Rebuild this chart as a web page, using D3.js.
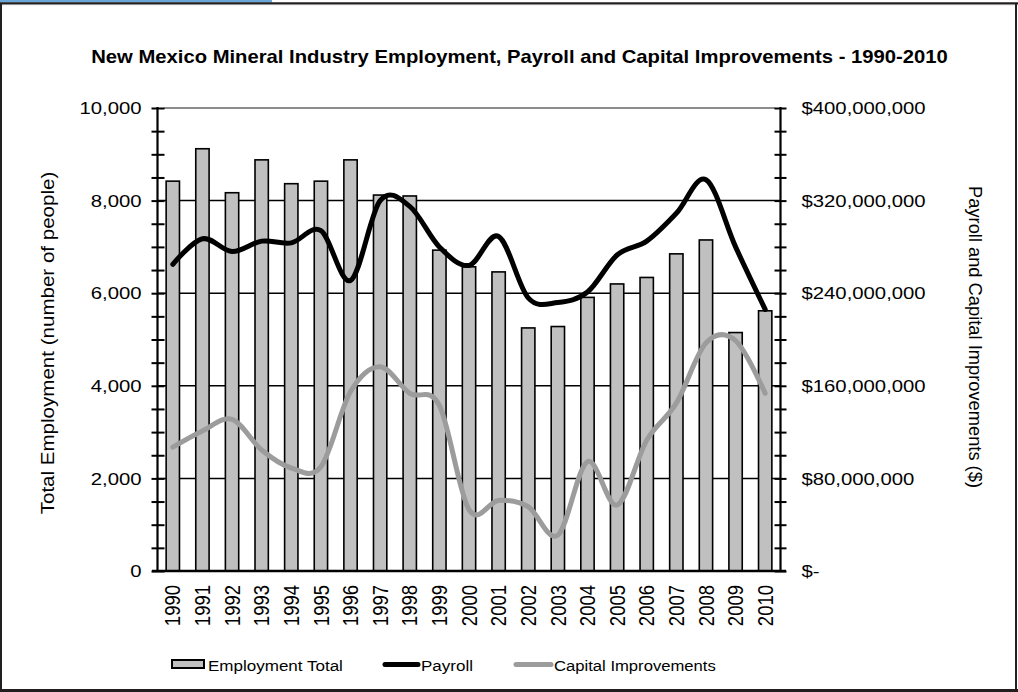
<!DOCTYPE html>
<html><head><meta charset="utf-8">
<script src="https://cdn.jsdelivr.net/npm/d3@7/dist/d3.min.js"></script>
<style>
body{margin:0;background:#fff}
svg{display:block}
text{font-family:"Liberation Sans",Arial,sans-serif;fill:#000}
</style>
</head><body>
<svg id="c" width="1018" height="692"></svg>
<script>
// ---------- data ----------
const years = ["1990","1991","1992","1993","1994","1995","1996","1997","1998","1999","2000","2001","2002","2003","2004","2005","2006","2007","2008","2009","2010"];
const employment = [8420, 9120, 8170, 8880, 8365, 8420, 8880, 8120, 8100, 6930, 6570, 6460, 5250, 5280, 5910, 6200, 6340, 6850, 7150, 5150, 5620];
const payroll = [265e6, 287e6, 276e6, 285e6, 283.5e6, 294e6, 251e6, 320e6, 315e6, 280e6, 264e6, 289e6, 236e6, 232e6, 241e6, 273e6, 285e6, 309e6, 338e6, 280e6, 226e6];
const capital = [107e6, 121e6, 131e6, 104.5e6, 89e6, 90e6, 155e6, 176.5e6, 153.5e6, 143e6, 53e6, 61e6, 55.5e6, 31e6, 94.5e6, 57e6, 113e6, 145e6, 197e6, 199e6, 153.5e6];
const leftTicks = [0, 2000, 4000, 6000, 8000, 10000];
const rightTicks = [0, 80e6, 160e6, 240e6, 320e6, 400e6];
const title = "New Mexico Mineral Industry Employment, Payroll and Capital Improvements - 1990-2010";
const leftTitle = "Total Employment (number of people)";
const rightTitle = "Payroll and Capital Improvements ($)";
const legendItems = ["Employment Total", "Payroll", "Capital Improvements"];

// ---------- layout ----------
const X0 = 158, X1 = 780, Y0 = 571, Y1 = 108;
const svg = d3.select("#c");

const x = d3.scaleBand().domain(years).range([X0, X1]).paddingInner(0.55).paddingOuter(0.275);
const yL = d3.scaleLinear().domain([0, 10000]).range([Y0, Y1]);
const yR = d3.scaleLinear().domain([0, 400e6]).range([Y0, Y1]);

// frame
svg.append("rect").attr("x",0).attr("y",0).attr("width",272).attr("height",2.5).attr("fill","#6aa6d8");
svg.append("line").attr("x1",0).attr("x2",1018).attr("y1",3.2).attr("y2",3.2).attr("stroke","#231f20").attr("stroke-width",2);
svg.append("line").attr("x1",0).attr("x2",1018).attr("y1",4.6).attr("y2",4.6).attr("stroke","#8a8a8a").attr("stroke-width",1);
svg.append("line").attr("x1",1).attr("x2",1).attr("y1",3).attr("y2",692).attr("stroke","#231f20").attr("stroke-width",2);
svg.append("line").attr("x1",1016).attr("x2",1016).attr("y1",3).attr("y2",692).attr("stroke","#231f20").attr("stroke-width",2);
svg.append("line").attr("x1",0).attr("x2",1018).attr("y1",690.5).attr("y2",690.5).attr("stroke","#231f20").attr("stroke-width",3);

// gridlines
svg.append("g").selectAll("line").data(leftTicks.filter(d => d > 0 && d < 10000)).join("line")
  .attr("x1", X0).attr("x2", X1).attr("y1", d => yL(d)).attr("y2", d => yL(d))
  .attr("stroke", "#000").attr("stroke-width", 1.5);
svg.append("line").attr("x1", X0 + 6).attr("x2", X1 - 5).attr("y1", Y1).attr("y2", Y1)
  .attr("stroke", "#8c8c8c").attr("stroke-width", 2);

// bars
svg.append("g").selectAll("rect").data(employment).join("rect")
  .attr("x", (d, i) => x(years[i]))
  .attr("width", x.bandwidth())
  .attr("y", d => yL(d))
  .attr("height", d => Y0 - yL(d))
  .attr("fill", "#c0c0c0").attr("stroke", "#000").attr("stroke-width", 1.6);

// lines
const cx = i => x(years[i]) + x.bandwidth() / 2;
const lineGen = d3.line().x((d, i) => cx(i)).y(d => yR(d)).curve(d3.curveCatmullRom.alpha(0));
svg.append("path").attr("d", lineGen(capital)).attr("fill","none").attr("stroke","#9c9c9c").attr("stroke-width",5).attr("stroke-linecap","round");
svg.append("path").attr("d", lineGen(payroll)).attr("fill","none").attr("stroke","#000").attr("stroke-width",5).attr("stroke-linecap","round");

// axes
const SX = 1.27;
const minorL = d3.range(0, 10001, 500);
const gL = svg.append("g").attr("transform", `translate(${X0 - 0.5},0)`)
  .call(d3.axisLeft(yL).tickValues(minorL).tickSize(6).tickFormat(""));
gL.select(".domain").attr("stroke-width", 2.2).attr("d", `M0,${Y1 - 1}V${Y0}`);
gL.selectAll(".tick line").attr("x1", -6).attr("x2", 7).attr("stroke-width", 2);
const gLl = svg.append("g").attr("transform", `translate(${X0 - 0.5},0)`)
  .call(d3.axisLeft(yL).tickValues(leftTicks).tickSize(0).tickFormat(d3.format(",")));
gLl.select(".domain").remove();
gLl.selectAll("text").attr("x", 0).attr("dy", "0.35em").style("font-size", "16px")
  .attr("transform", `translate(-16,0) scale(${SX},1)`);

const gR = svg.append("g").attr("transform", `translate(${X1 + 0.5},0)`)
  .call(d3.axisRight(yR).tickValues(d3.range(0, 400e6 + 1, 20e6)).tickSize(6).tickFormat(""));
gR.select(".domain").attr("stroke-width", 2.2).attr("d", `M0,${Y1 - 1}V${Y0}`);
gR.selectAll(".tick line").attr("x1", -6).attr("x2", 6).attr("stroke-width", 2);
const fmtR = d => d === 0 ? "$-" : d3.format("$,")(d);
const gRl = svg.append("g").attr("transform", `translate(${X1 + 0.5},0)`)
  .call(d3.axisRight(yR).tickValues(rightTicks).tickSize(0).tickFormat(fmtR));
gRl.select(".domain").remove();
gRl.selectAll("text").attr("x", 0).attr("dy", "0.35em").style("font-size", "16px")
  .attr("transform", `translate(21,0) scale(${SX},1)`);

// x axis
const gX = svg.append("g").attr("transform", `translate(0,${Y0})`)
  .call(d3.axisBottom(x).tickSize(0));
gX.select(".domain").attr("stroke-width", 2.5).attr("d", `M${X0 - 6},0H${X1 + 6}`);
gX.selectAll("text").attr("x", 0).attr("y", 0).attr("dy", "0.35em")
  .attr("text-anchor", "end").style("font-size", "18.5px")
  .attr("transform", `translate(0,14) scale(1.18,1) rotate(-90)`);

// helper to stretch text along its length
function stretch(t, target) {
  const n = t.node().getComputedTextLength();
  return target / n;
}

// title
const tt = svg.append("text").text(title).attr("text-anchor","middle")
  .style("font-size","18px").style("font-weight","bold");
tt.attr("transform", `translate(519.5,62.5) scale(${stretch(tt, 857)},1)`);

// axis titles
const lt = svg.append("text").text(leftTitle).attr("text-anchor","middle").attr("dy","0.35em").style("font-size","16px");
lt.attr("transform", `translate(47,343) scale(1.2,1) rotate(-90) scale(${stretch(lt, 343)},1)`);
const rt = svg.append("text").text(rightTitle).attr("text-anchor","middle").attr("dy","0.35em").style("font-size","16px");
rt.attr("transform", `translate(976,337) scale(1.2,1) rotate(90) scale(${stretch(rt, 302)},1)`);

// legend
const lg = svg.append("g");
lg.append("rect").attr("x",172).attr("y",660).attr("width",32).attr("height",8)
  .attr("fill","#c0c0c0").attr("stroke","#000").attr("stroke-width",2);
lg.append("line").attr("x1",385).attr("x2",418).attr("y1",664.5).attr("y2",664.5)
  .attr("stroke","#000").attr("stroke-width",5).attr("stroke-linecap","round");
lg.append("line").attr("x1",516).attr("x2",551).attr("y1",664.5).attr("y2",664.5)
  .attr("stroke","#9c9c9c").attr("stroke-width",5).attr("stroke-linecap","round");
const legPos = [[208,135],[421,52],[554,162]];
legendItems.forEach((s, i) => {
  const t = lg.append("text").text(s).style("font-size","15px");
  t.attr("transform", `translate(${legPos[i][0]},670.5) scale(${stretch(t, legPos[i][1])},1)`);
});
</script>
</body></html>
